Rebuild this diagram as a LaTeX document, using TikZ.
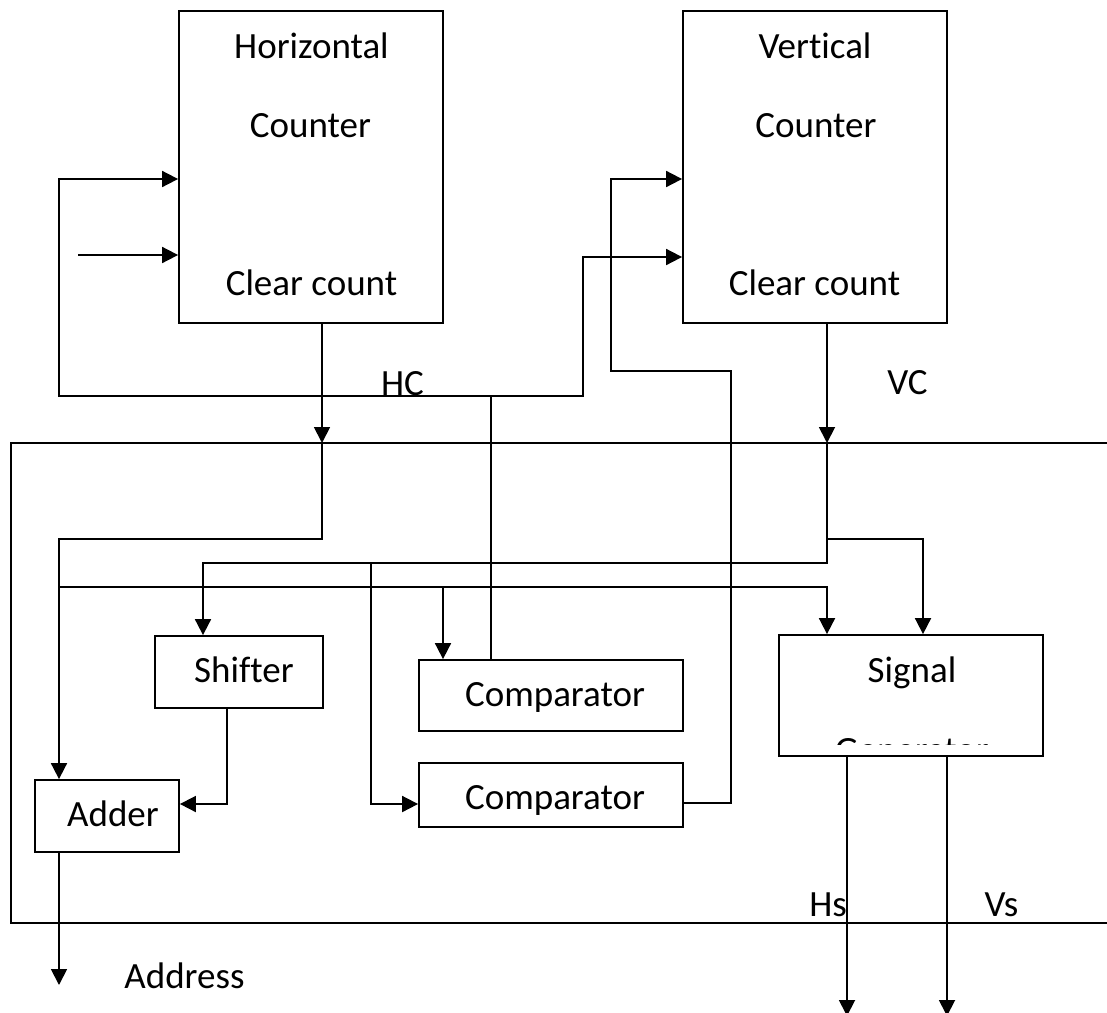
\documentclass[tikz,border=0pt]{standalone}
\usepackage{fontspec}
\setmainfont{Carlito}[Ligatures={NoCommon,NoContextual,NoRare}]
\usetikzlibrary{arrows.meta}
\begin{document}
\begin{tikzpicture}[x=1pt,y=-1pt,line width=1.8pt,
  box/.style={draw,rectangle,inner sep=0pt},
  lbl/.style={font=\fontsize{37}{44}\selectfont,inner sep=0pt,anchor=base},
  arr/.style={-{Triangle[length=16pt,width=16pt]}}]
\useasboundingbox (0,0) rectangle (1107,1012);
% boxes
\node[box,minimum width=264pt,minimum height=312pt] (hc) at (311,167) {};
\node[box,minimum width=264pt,minimum height=312pt] (vc) at (815,167) {};
\node[box,minimum width=168pt,minimum height=72pt] (shifter) at (239,672) {};
\node[box,minimum width=144pt,minimum height=72pt] (adder) at (107,816) {};
\node[box,minimum width=264pt,minimum height=71pt] (comp1) at (551,695.5) {};
\node[box,minimum width=264pt,minimum height=64pt] (comp2) at (551,795) {};
\node[box,minimum width=264pt,minimum height=121pt] (sig) at (911,695.5) {};
% big enclosing box (right side cut off)
\coordinate (bbTL) at (11,443);
\coordinate (bbTR) at (1112,443);
\coordinate (bbBL) at (11,923);
\coordinate (bbBR) at (1112,923);
\draw (bbTR) -- (bbTL) -- (bbBL) -- (bbBR);
% labels
\node[lbl] (t1) at (311.5,58) {Horizontal};
\node[lbl] (t2) at (310.5,137) {Counter};
\node[lbl] (t3) at (311.5,295) {Clear count};
\node[lbl] (t4) at (815,58) {Ver\kern0pt tical};
\node[lbl] (t5) at (816,137) {Counter};
\node[lbl] (t6) at (814.5,295) {Clear count};
\node[lbl] (t7) at (402.5,395) {HC};
\node[lbl] (t8) at (907.5,394) {VC};
\node[lbl] (t9) at (244,682) {Shif\kern0pt ter};
\node[lbl] (t10) at (555,706) {Comparator};
\node[lbl] (t11) at (555,809) {Comparator};
\node[lbl] (t12) at (912,682) {Signal};
\begin{scope}
\clip (779,635) rectangle (1043,744);
\node[lbl] (t13) at (912,762) {Generator};
\end{scope}
\node[lbl] (t14) at (113,826) {Adder};
\node[lbl] (t15) at (184.5,988) {Address};
\node[lbl] (t16) at (828,916) {Hs};
\node[lbl] (t17) at (1001.5,916) {Vs};
% junction coordinates
\coordinate (fbJ) at (491,396);
\coordinate (fbL) at (59,396);
\coordinate (fbR) at (583,396);
\coordinate (inL) at (78,255);
\coordinate (c2a) at (731,371);
\coordinate (c2b) at (611,371);
\coordinate (hcx) at (322,0);
\coordinate (vcx) at (827,0);
\coordinate (hb) at (59,539);
\coordinate (hbus) at (0,587);
\coordinate (c1in) at (443,587);
\coordinate (sv) at (203,563);
\coordinate (cv) at (371,563);
\coordinate (sx) at (227,0);
\coordinate (addr) at (59,985);
\coordinate (so1) at (847,1016);
\coordinate (so2) at (947,1016);
% feedback from comparators
\draw[arr] (comp1.north -| fbJ) -- (fbJ) -- (fbL) |- ([yshift=-12pt]hc.west);
\draw[arr] (fbJ) -- (fbR) |- ([yshift=-90pt]vc.west);
\draw[arr] (inL) -- ([yshift=-88pt]hc.west);
\draw[arr] ([yshift=-8pt]comp2.east) -| (c2a) -- (c2b) |- ([yshift=-12pt]vc.west);
% HC bus
\draw[arr] (hc.south -| hcx) -- (hcx |- bbTL);
\draw[arr] (hcx |- bbTL) |- (hb) -- (adder.north -| hb);
\draw[arr] (hb |- hbus) -| ([xshift=-84pt]sig.north);
\draw[arr] (c1in) -- (comp1.north -| c1in);
% VC bus
\draw[arr] (vc.south -| vcx) -- (vcx |- bbTL);
\draw[arr] (vcx |- bbTL) |- (sv) -- (shifter.north -| sv);
\draw[arr] (vcx |- hb) -| ([xshift=12pt]sig.north);
\draw[arr] (cv) |- ([yshift=-9pt]comp2.west);
% shifter to adder
\draw[arr] (shifter.south -| sx) |- ([yshift=12pt]adder.east);
% outputs
\draw[arr] (adder.south -| hb) -- (addr);
\draw[arr] (sig.south -| so1) -- (so1);
\draw[arr] (sig.south -| so2) -- (so2);
\end{tikzpicture}
\end{document}
